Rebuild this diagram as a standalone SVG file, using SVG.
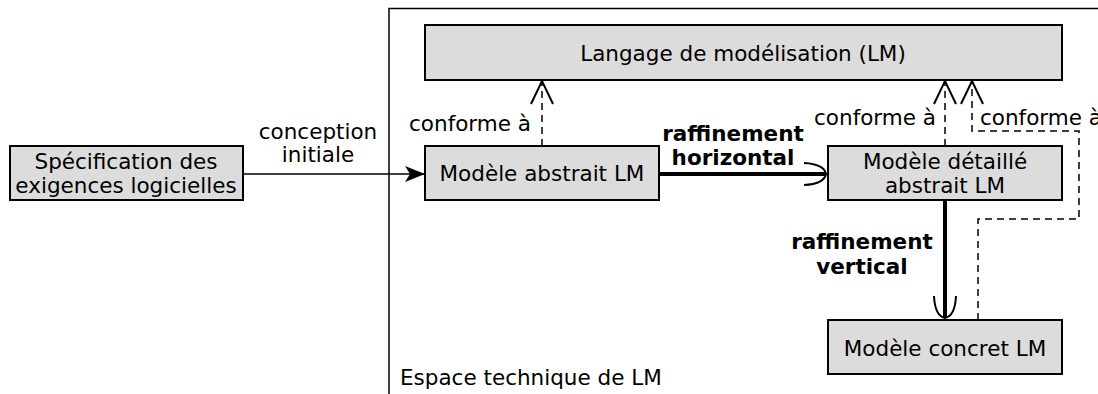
<svg xmlns="http://www.w3.org/2000/svg" width="1098" height="394" viewBox="0 0 1098 394">
<style>
text{font-family:"DejaVu Sans","Liberation Sans",sans-serif;font-size:21.5px;fill:#000}
.b{font-weight:bold}
.m{text-anchor:middle}
.e{text-anchor:end}
.box{fill:#dcdcdc;stroke:#000;stroke-width:2}
.ln{fill:none;stroke:#000;stroke-width:1.5}
.dash{fill:none;stroke:#000;stroke-width:1.5;stroke-dasharray:7,5}
.thick{fill:none;stroke:#000;stroke-width:4}
</style>
<defs>
<marker id="fill" markerUnits="userSpaceOnUse" markerWidth="22" markerHeight="18" refX="20" refY="9" orient="auto" viewBox="0 0 22 18">
<path d="M0,1 L20,9 L0,17 L5,9 Z" fill="#000"/>
</marker>
<marker id="open" markerUnits="userSpaceOnUse" markerWidth="26" markerHeight="26" refX="24" refY="13" orient="auto" viewBox="0 0 26 26">
<path d="M1,2 L24,13 L1,24" fill="none" stroke="#000" stroke-width="2"/>
</marker>
<marker id="curve" markerUnits="userSpaceOnUse" markerWidth="26" markerHeight="26" refX="24" refY="13" orient="auto" viewBox="0 0 26 26">
<path d="M2,2 Q22,3 24,13 Q22,23 2,24" fill="none" stroke="#000" stroke-width="2"/>
</marker>
</defs>
<g id="frame">
<path class="ln" d="M389,394 L389,8.5 L1098,8.5" stroke-width="2"/>
<text x="400" y="385">Espace technique de LM</text>
</g>
<g id="connectors">
<path class="ln" d="M243,174 L425,174" marker-end="url(#fill)"/>
<text class="m" x="318" y="139">conception</text>
<text class="m" x="318" y="162">initiale</text>
<path class="dash" d="M542,146 L542,81" marker-end="url(#open)"/>
<text class="e" x="531" y="131">conforme à</text>
<path class="thick" d="M659,174 L826,174" marker-end="url(#curve)"/>
<text class="m b" x="733" y="141">raffinement</text>
<text class="m b" x="733" y="165">horizontal</text>
<path class="dash" d="M945,146 L945,81" marker-end="url(#open)"/>
<text class="e" x="936" y="125">conforme à</text>
<path class="dash" d="M978,320 L978,219 L1079,219 L1079,131 L972,131 L972,81" marker-end="url(#open)"/>
<text x="980" y="125">conforme à</text>
<path class="thick" d="M945,200 L945,318" marker-end="url(#curve)"/>
<text class="m b" x="862" y="249">raffinement</text>
<text class="m b" x="862" y="274">vertical</text>
</g>
<g id="lm">
<rect class="box" x="425" y="25" width="637" height="55"/>
<text class="m" x="743" y="61">Langage de modélisation (LM)</text>
</g>
<g id="spec">
<rect class="box" x="10" y="146" width="233" height="54"/>
<text class="m" x="126" y="169">Spécification des</text>
<text class="m" x="126" y="193">exigences logicielles</text>
</g>
<g id="abstrait">
<rect class="box" x="425" y="146" width="234" height="54"/>
<text class="m" x="542" y="181">Modèle abstrait LM</text>
</g>
<g id="detaille">
<rect class="box" x="828" y="146" width="234" height="54"/>
<text class="m" x="945" y="169">Modèle détaillé</text>
<text class="m" x="945" y="193">abstrait LM</text>
</g>
<g id="concret">
<rect class="box" x="828" y="320" width="234" height="54"/>
<text class="m" x="945" y="356">Modèle concret LM</text>
</g>
</svg>
